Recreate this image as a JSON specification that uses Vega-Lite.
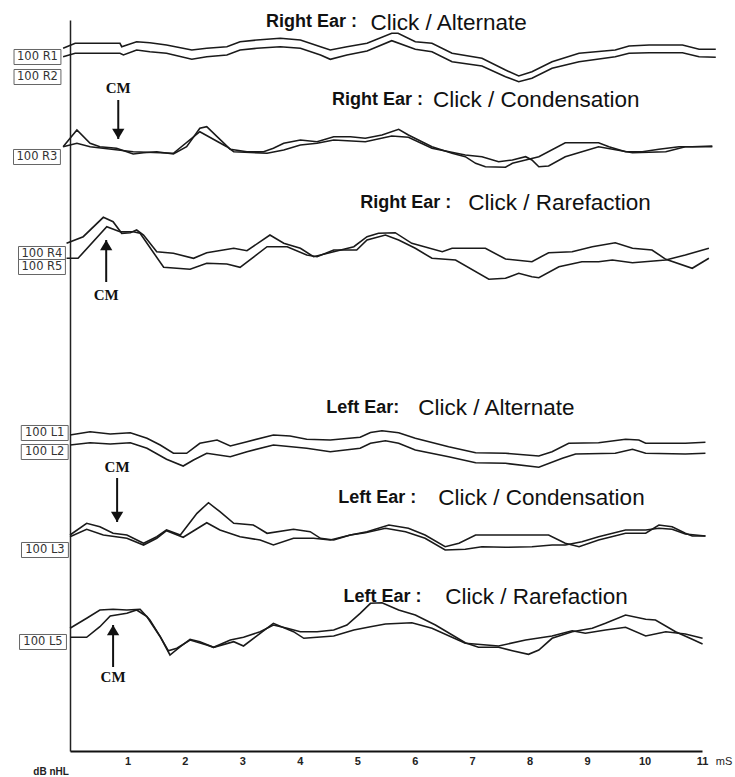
{
  "$schema": "https://vega.github.io/schema/vega-lite/v6.json",
  "width": 632,
  "height": 731,
  "autosize": {"type": "none"},
  "padding": {"left": 70, "top": 20, "right": 33, "bottom": 26},
  "background": "white",
  "config": {"view": {"stroke": null}},
  "datasets": {
    "traces": [
      {"s":"R1","t":-0.12,"v":702.7},{"s":"R1","t":0.09,"v":707.7},{"s":"R1","t":0.87,"v":707.7},{"s":"R1","t":0.90,"v":704.3},{"s":"R1","t":1.16,"v":709.3},{"s":"R1","t":1.39,"v":708.3},{"s":"R1","t":1.68,"v":706},{"s":"R1","t":2.12,"v":701},{"s":"R1","t":2.38,"v":702.7},{"s":"R1","t":2.73,"v":704.3},{"s":"R1","t":2.96,"v":709.3},{"s":"R1","t":3.25,"v":711},{"s":"R1","t":3.66,"v":712.7},{"s":"R1","t":4.01,"v":711},{"s":"R1","t":4.36,"v":704.3},{"s":"R1","t":4.53,"v":701},{"s":"R1","t":4.82,"v":704.3},{"s":"R1","t":5.17,"v":707.7},{"s":"R1","t":5.60,"v":717.7},{"s":"R1","t":5.71,"v":717.7},{"s":"R1","t":6.01,"v":709.3},{"s":"R1","t":6.30,"v":707.7},{"s":"R1","t":6.65,"v":697.7},{"s":"R1","t":7.17,"v":692.7},{"s":"R1","t":7.58,"v":681},{"s":"R1","t":7.81,"v":675},{"s":"R1","t":8.04,"v":679.3},{"s":"R1","t":8.39,"v":689.3},{"s":"R1","t":8.86,"v":697.7},{"s":"R1","t":9.49,"v":701},{"s":"R1","t":9.73,"v":705},{"s":"R1","t":10.08,"v":706},{"s":"R1","t":10.66,"v":706},{"s":"R1","t":10.95,"v":701.7},{"s":"R1","t":11.24,"v":701.7},
      {"s":"R2","t":-0.12,"v":694.3},{"s":"R2","t":0.09,"v":697.7},{"s":"R2","t":0.87,"v":697.7},{"s":"R2","t":0.93,"v":696},{"s":"R2","t":1.16,"v":701},{"s":"R2","t":1.39,"v":699.3},{"s":"R2","t":1.68,"v":697.7},{"s":"R2","t":2.12,"v":691.7},{"s":"R2","t":2.38,"v":694.3},{"s":"R2","t":2.73,"v":696},{"s":"R2","t":2.96,"v":701},{"s":"R2","t":3.25,"v":702.7},{"s":"R2","t":3.66,"v":704.3},{"s":"R2","t":4.01,"v":702.7},{"s":"R2","t":4.36,"v":696},{"s":"R2","t":4.53,"v":691.7},{"s":"R2","t":4.82,"v":696},{"s":"R2","t":5.17,"v":700},{"s":"R2","t":5.60,"v":710.3},{"s":"R2","t":6.01,"v":701.7},{"s":"R2","t":6.30,"v":699.3},{"s":"R2","t":6.65,"v":689.3},{"s":"R2","t":7.17,"v":685},{"s":"R2","t":7.58,"v":674.3},{"s":"R2","t":7.81,"v":669.3},{"s":"R2","t":8.04,"v":672.7},{"s":"R2","t":8.39,"v":682.7},{"s":"R2","t":8.86,"v":689.3},{"s":"R2","t":9.49,"v":694.3},{"s":"R2","t":9.73,"v":697.7},{"s":"R2","t":10.08,"v":698.3},{"s":"R2","t":10.66,"v":698.3},{"s":"R2","t":10.95,"v":694.3},{"s":"R2","t":11.24,"v":693.7},
      {"s":"R3a","t":-0.12,"v":604.3},{"s":"R3a","t":0.12,"v":621},{"s":"R3a","t":0.35,"v":607.7},{"s":"R3a","t":0.52,"v":604.3},{"s":"R3a","t":0.81,"v":602.7},{"s":"R3a","t":1.10,"v":597},{"s":"R3a","t":1.28,"v":598.3},{"s":"R3a","t":1.51,"v":599.3},{"s":"R3a","t":1.80,"v":597},{"s":"R3a","t":2.03,"v":604.3},{"s":"R3a","t":2.26,"v":622.7},{"s":"R3a","t":2.38,"v":624.3},{"s":"R3a","t":2.56,"v":614.3},{"s":"R3a","t":2.79,"v":601.7},{"s":"R3a","t":3.08,"v":599.3},{"s":"R3a","t":3.37,"v":599.3},{"s":"R3a","t":3.54,"v":602.7},{"s":"R3a","t":3.72,"v":607.7},{"s":"R3a","t":4.01,"v":611},{"s":"R3a","t":4.30,"v":609.3},{"s":"R3a","t":4.59,"v":614.3},{"s":"R3a","t":4.88,"v":614.3},{"s":"R3a","t":5.14,"v":612.7},{"s":"R3a","t":5.43,"v":616},{"s":"R3a","t":5.72,"v":621.7},{"s":"R3a","t":5.89,"v":616},{"s":"R3a","t":6.30,"v":604.3},{"s":"R3a","t":6.65,"v":597.7},{"s":"R3a","t":6.88,"v":594.3},{"s":"R3a","t":7.06,"v":587.7},{"s":"R3a","t":7.23,"v":584.3},{"s":"R3a","t":7.58,"v":583.7},{"s":"R3a","t":7.70,"v":587.7},{"s":"R3a","t":7.93,"v":591},{"s":"R3a","t":8.16,"v":594.3},{"s":"R3a","t":8.62,"v":608.3},{"s":"R3a","t":9.20,"v":608.3},{"s":"R3a","t":9.38,"v":604.3},{"s":"R3a","t":9.67,"v":599.3},{"s":"R3a","t":9.96,"v":599.3},{"s":"R3a","t":10.25,"v":601.7},{"s":"R3a","t":10.60,"v":604.3},{"s":"R3a","t":10.83,"v":604.3},{"s":"R3a","t":11.18,"v":605},
      {"s":"R3b","t":-0.12,"v":604.3},{"s":"R3b","t":0.12,"v":607.7},{"s":"R3b","t":0.35,"v":604.3},{"s":"R3b","t":1.10,"v":599.3},{"s":"R3b","t":1.80,"v":597.7},{"s":"R3b","t":2.26,"v":619.3},{"s":"R3b","t":2.73,"v":604.3},{"s":"R3b","t":2.85,"v":599.3},{"s":"R3b","t":3.43,"v":597.7},{"s":"R3b","t":3.72,"v":601},{"s":"R3b","t":4.01,"v":606},{"s":"R3b","t":4.30,"v":607.7},{"s":"R3b","t":4.59,"v":611},{"s":"R3b","t":5.14,"v":609.3},{"s":"R3b","t":5.60,"v":615},{"s":"R3b","t":5.89,"v":613.7},{"s":"R3b","t":6.30,"v":602.7},{"s":"R3b","t":6.88,"v":596},{"s":"R3b","t":7.17,"v":594.3},{"s":"R3b","t":7.46,"v":589.3},{"s":"R3b","t":7.70,"v":591},{"s":"R3b","t":7.93,"v":594.3},{"s":"R3b","t":8.04,"v":591},{"s":"R3b","t":8.16,"v":584.3},{"s":"R3b","t":8.33,"v":585},{"s":"R3b","t":8.62,"v":594.3},{"s":"R3b","t":8.91,"v":599.3},{"s":"R3b","t":9.20,"v":604.3},{"s":"R3b","t":9.79,"v":598.3},{"s":"R3b","t":10.37,"v":599.3},{"s":"R3b","t":10.71,"v":604.3},{"s":"R3b","t":11.18,"v":604.3},
      {"s":"R4","t":-0.06,"v":507.7},{"s":"R4","t":0.23,"v":514.3},{"s":"R4","t":0.58,"v":533.7},{"s":"R4","t":0.75,"v":529.3},{"s":"R4","t":0.90,"v":517.7},{"s":"R4","t":1.05,"v":518.3},{"s":"R4","t":1.16,"v":521},{"s":"R4","t":1.28,"v":516},{"s":"R4","t":1.51,"v":499.3},{"s":"R4","t":1.80,"v":497.7},{"s":"R4","t":2.15,"v":492.7},{"s":"R4","t":2.38,"v":498.3},{"s":"R4","t":2.85,"v":502.7},{"s":"R4","t":3.08,"v":500.3},{"s":"R4","t":3.48,"v":516},{"s":"R4","t":3.72,"v":507.7},{"s":"R4","t":4.01,"v":502.7},{"s":"R4","t":4.24,"v":494.3},{"s":"R4","t":4.59,"v":499.3},{"s":"R4","t":4.94,"v":504.3},{"s":"R4","t":5.17,"v":514.3},{"s":"R4","t":5.37,"v":517.7},{"s":"R4","t":5.66,"v":518.3},{"s":"R4","t":5.95,"v":507.7},{"s":"R4","t":6.48,"v":499.3},{"s":"R4","t":6.65,"v":502.7},{"s":"R4","t":7.23,"v":502.7},{"s":"R4","t":7.58,"v":492},{"s":"R4","t":8.04,"v":489.3},{"s":"R4","t":8.33,"v":498.3},{"s":"R4","t":8.74,"v":499.3},{"s":"R4","t":9.09,"v":504.3},{"s":"R4","t":9.49,"v":508.3},{"s":"R4","t":9.79,"v":502.7},{"s":"R4","t":10.13,"v":501},{"s":"R4","t":10.37,"v":491.7},{"s":"R4","t":10.83,"v":482.7},{"s":"R4","t":11.12,"v":492.7},
      {"s":"R5","t":-0.06,"v":492.7},{"s":"R5","t":0.14,"v":492.7},{"s":"R5","t":0.64,"v":524.3},{"s":"R5","t":0.87,"v":519.3},{"s":"R5","t":1.10,"v":519.3},{"s":"R5","t":1.22,"v":517.7},{"s":"R5","t":1.63,"v":483.7},{"s":"R5","t":2.09,"v":481.7},{"s":"R5","t":2.38,"v":487.7},{"s":"R5","t":2.73,"v":487},{"s":"R5","t":2.96,"v":483.7},{"s":"R5","t":3.43,"v":504.3},{"s":"R5","t":3.78,"v":504.3},{"s":"R5","t":4.12,"v":496},{"s":"R5","t":4.30,"v":494.3},{"s":"R5","t":4.59,"v":501},{"s":"R5","t":4.99,"v":501},{"s":"R5","t":5.17,"v":511},{"s":"R5","t":5.49,"v":516},{"s":"R5","t":5.72,"v":511},{"s":"R5","t":6.01,"v":502.7},{"s":"R5","t":6.30,"v":492.7},{"s":"R5","t":6.71,"v":491},{"s":"R5","t":7.29,"v":471.7},{"s":"R5","t":7.58,"v":472.7},{"s":"R5","t":7.81,"v":477.7},{"s":"R5","t":8.04,"v":474.3},{"s":"R5","t":8.16,"v":473.3},{"s":"R5","t":8.51,"v":484.3},{"s":"R5","t":8.91,"v":489.3},{"s":"R5","t":9.20,"v":489.3},{"s":"R5","t":9.44,"v":491},{"s":"R5","t":9.79,"v":488.3},{"s":"R5","t":10.37,"v":491},{"s":"R5","t":10.71,"v":496},{"s":"R5","t":11.12,"v":502.7},
      {"s":"L1","t":0,"v":316},{"s":"L1","t":0.35,"v":319.3},{"s":"L1","t":0.70,"v":317},{"s":"L1","t":1.05,"v":318.3},{"s":"L1","t":1.34,"v":312.7},{"s":"L1","t":1.57,"v":306},{"s":"L1","t":1.80,"v":297.7},{"s":"L1","t":2.03,"v":297.7},{"s":"L1","t":2.26,"v":307.7},{"s":"L1","t":2.56,"v":311},{"s":"L1","t":2.79,"v":305},{"s":"L1","t":3.08,"v":309.3},{"s":"L1","t":3.54,"v":316},{"s":"L1","t":3.83,"v":315},{"s":"L1","t":4.12,"v":311.7},{"s":"L1","t":4.53,"v":311},{"s":"L1","t":5.05,"v":313.7},{"s":"L1","t":5.23,"v":318.5},{"s":"L1","t":5.43,"v":320.3},{"s":"L1","t":5.72,"v":318.3},{"s":"L1","t":6.01,"v":312.7},{"s":"L1","t":6.59,"v":304.3},{"s":"L1","t":7.06,"v":298.3},{"s":"L1","t":7.58,"v":297.7},{"s":"L1","t":8.16,"v":295},{"s":"L1","t":8.39,"v":299.3},{"s":"L1","t":8.68,"v":307.7},{"s":"L1","t":9.20,"v":308.3},{"s":"L1","t":9.67,"v":311.7},{"s":"L1","t":9.90,"v":311},{"s":"L1","t":10.02,"v":307.7},{"s":"L1","t":10.71,"v":307.7},{"s":"L1","t":11.06,"v":308.7},
      {"s":"L2","t":0,"v":306},{"s":"L2","t":0.35,"v":308.3},{"s":"L2","t":0.70,"v":307},{"s":"L2","t":1.05,"v":308.3},{"s":"L2","t":1.34,"v":302.7},{"s":"L2","t":1.68,"v":291.7},{"s":"L2","t":1.97,"v":285},{"s":"L2","t":2.15,"v":291},{"s":"L2","t":2.38,"v":297.7},{"s":"L2","t":2.79,"v":294.3},{"s":"L2","t":3.08,"v":299.3},{"s":"L2","t":3.54,"v":306},{"s":"L2","t":4.12,"v":302.7},{"s":"L2","t":4.53,"v":299.3},{"s":"L2","t":5.05,"v":302.7},{"s":"L2","t":5.23,"v":307.7},{"s":"L2","t":5.49,"v":310.3},{"s":"L2","t":5.72,"v":307.7},{"s":"L2","t":6.01,"v":301},{"s":"L2","t":6.59,"v":294.3},{"s":"L2","t":7.06,"v":288.3},{"s":"L2","t":7.58,"v":287.7},{"s":"L2","t":8.16,"v":283.7},{"s":"L2","t":8.57,"v":292.7},{"s":"L2","t":8.80,"v":297},{"s":"L2","t":9.49,"v":297.7},{"s":"L2","t":9.79,"v":301.7},{"s":"L2","t":10.02,"v":297.7},{"s":"L2","t":10.71,"v":297},{"s":"L2","t":11.06,"v":297.7},
      {"s":"L3a","t":0,"v":216},{"s":"L3a","t":0.29,"v":227.7},{"s":"L3a","t":0.52,"v":224.3},{"s":"L3a","t":0.75,"v":217.7},{"s":"L3a","t":0.99,"v":216},{"s":"L3a","t":1.28,"v":207.7},{"s":"L3a","t":1.51,"v":214.3},{"s":"L3a","t":1.68,"v":221},{"s":"L3a","t":1.92,"v":216},{"s":"L3a","t":2.21,"v":237.7},{"s":"L3a","t":2.41,"v":248.3},{"s":"L3a","t":2.61,"v":239.3},{"s":"L3a","t":2.85,"v":227.7},{"s":"L3a","t":3.19,"v":226},{"s":"L3a","t":3.43,"v":217.7},{"s":"L3a","t":3.89,"v":221.7},{"s":"L3a","t":4.18,"v":219.3},{"s":"L3a","t":4.36,"v":212.7},{"s":"L3a","t":4.59,"v":211},{"s":"L3a","t":4.88,"v":216},{"s":"L3a","t":5.17,"v":219.3},{"s":"L3a","t":5.55,"v":226},{"s":"L3a","t":5.89,"v":222.7},{"s":"L3a","t":6.18,"v":216},{"s":"L3a","t":6.53,"v":204.3},{"s":"L3a","t":6.77,"v":207.7},{"s":"L3a","t":7.06,"v":216},{"s":"L3a","t":8.33,"v":216},{"s":"L3a","t":8.62,"v":207.7},{"s":"L3a","t":8.86,"v":204.3},{"s":"L3a","t":9.20,"v":211},{"s":"L3a","t":9.67,"v":217.7},{"s":"L3a","t":10.02,"v":217.7},{"s":"L3a","t":10.25,"v":226},{"s":"L3a","t":10.48,"v":224.3},{"s":"L3a","t":10.71,"v":217.7},{"s":"L3a","t":10.83,"v":215},{"s":"L3a","t":11.06,"v":215},
      {"s":"L3b","t":0,"v":214.3},{"s":"L3b","t":0.29,"v":221.7},{"s":"L3b","t":0.58,"v":216},{"s":"L3b","t":0.99,"v":212.7},{"s":"L3b","t":1.28,"v":206},{"s":"L3b","t":1.51,"v":212.7},{"s":"L3b","t":1.68,"v":220.3},{"s":"L3b","t":1.97,"v":213.7},{"s":"L3b","t":2.38,"v":228.3},{"s":"L3b","t":2.61,"v":221},{"s":"L3b","t":2.96,"v":214.3},{"s":"L3b","t":3.31,"v":211},{"s":"L3b","t":3.54,"v":206},{"s":"L3b","t":3.89,"v":212.7},{"s":"L3b","t":4.24,"v":212.7},{"s":"L3b","t":4.53,"v":211},{"s":"L3b","t":4.88,"v":216},{"s":"L3b","t":5.14,"v":218.3},{"s":"L3b","t":5.49,"v":222.7},{"s":"L3b","t":5.84,"v":219.3},{"s":"L3b","t":6.18,"v":212.7},{"s":"L3b","t":6.53,"v":201},{"s":"L3b","t":6.88,"v":201.7},{"s":"L3b","t":7.17,"v":204.3},{"s":"L3b","t":7.58,"v":203.7},{"s":"L3b","t":8.04,"v":204.3},{"s":"L3b","t":8.39,"v":206},{"s":"L3b","t":8.62,"v":206},{"s":"L3b","t":8.91,"v":209.3},{"s":"L3b","t":9.20,"v":214.3},{"s":"L3b","t":9.67,"v":221},{"s":"L3b","t":10.02,"v":221},{"s":"L3b","t":10.25,"v":222.7},{"s":"L3b","t":10.48,"v":221.7},{"s":"L3b","t":10.71,"v":217},{"s":"L3b","t":11.06,"v":215},
      {"s":"L5a","t":0,"v":122.7},{"s":"L5a","t":0.29,"v":132.7},{"s":"L5a","t":0.52,"v":141},{"s":"L5a","t":0.75,"v":141.7},{"s":"L5a","t":0.99,"v":141},{"s":"L5a","t":1.22,"v":141.7},{"s":"L5a","t":1.39,"v":131},{"s":"L5a","t":1.57,"v":114.3},{"s":"L5a","t":1.74,"v":96},{"s":"L5a","t":1.92,"v":104.3},{"s":"L5a","t":2.09,"v":111.7},{"s":"L5a","t":2.26,"v":109.3},{"s":"L5a","t":2.50,"v":103.7},{"s":"L5a","t":2.79,"v":111},{"s":"L5a","t":3.02,"v":113.7},{"s":"L5a","t":3.31,"v":119.3},{"s":"L5a","t":3.54,"v":126},{"s":"L5a","t":3.78,"v":122.7},{"s":"L5a","t":4.01,"v":119.3},{"s":"L5a","t":4.30,"v":119.3},{"s":"L5a","t":4.59,"v":121},{"s":"L5a","t":4.82,"v":126},{"s":"L5a","t":5.05,"v":137.7},{"s":"L5a","t":5.23,"v":147.7},{"s":"L5a","t":5.43,"v":148.3},{"s":"L5a","t":5.72,"v":141},{"s":"L5a","t":6.01,"v":136},{"s":"L5a","t":6.36,"v":126},{"s":"L5a","t":6.88,"v":108.3},{"s":"L5a","t":7.11,"v":103.7},{"s":"L5a","t":7.46,"v":103.7},{"s":"L5a","t":7.70,"v":100.3},{"s":"L5a","t":7.98,"v":96.7},{"s":"L5a","t":8.16,"v":101},{"s":"L5a","t":8.39,"v":112.7},{"s":"L5a","t":8.74,"v":119.3},{"s":"L5a","t":9.09,"v":122.7},{"s":"L5a","t":9.32,"v":127.7},{"s":"L5a","t":9.67,"v":136},{"s":"L5a","t":10.02,"v":131.7},{"s":"L5a","t":10.19,"v":131},{"s":"L5a","t":10.54,"v":119.3},{"s":"L5a","t":10.83,"v":111.7},{"s":"L5a","t":11.01,"v":107},
      {"s":"L5b","t":0,"v":113.7},{"s":"L5b","t":0.29,"v":113.7},{"s":"L5b","t":0.52,"v":124.3},{"s":"L5b","t":0.70,"v":135},{"s":"L5b","t":0.99,"v":137.7},{"s":"L5b","t":1.16,"v":141},{"s":"L5b","t":1.34,"v":134.3},{"s":"L5b","t":1.57,"v":114.3},{"s":"L5b","t":1.71,"v":100.3},{"s":"L5b","t":1.86,"v":102.7},{"s":"L5b","t":2.09,"v":111},{"s":"L5b","t":2.38,"v":106},{"s":"L5b","t":2.50,"v":103.7},{"s":"L5b","t":2.85,"v":109.3},{"s":"L5b","t":3.02,"v":105},{"s":"L5b","t":3.31,"v":117.7},{"s":"L5b","t":3.54,"v":127.7},{"s":"L5b","t":3.89,"v":119.3},{"s":"L5b","t":4.07,"v":112.7},{"s":"L5b","t":4.30,"v":113.7},{"s":"L5b","t":4.59,"v":115},{"s":"L5b","t":4.94,"v":121},{"s":"L5b","t":5.23,"v":124.3},{"s":"L5b","t":5.49,"v":127},{"s":"L5b","t":5.95,"v":128.3},{"s":"L5b","t":6.30,"v":122.7},{"s":"L5b","t":6.88,"v":107.7},{"s":"L5b","t":7.46,"v":105},{"s":"L5b","t":7.93,"v":111},{"s":"L5b","t":8.39,"v":115},{"s":"L5b","t":8.74,"v":120.3},{"s":"L5b","t":8.97,"v":117.7},{"s":"L5b","t":9.32,"v":121},{"s":"L5b","t":9.67,"v":123.7},{"s":"L5b","t":10.02,"v":115},{"s":"L5b","t":10.37,"v":119.3},{"s":"L5b","t":10.71,"v":117},{"s":"L5b","t":11.01,"v":112.7}
    ],
    "titles": [
      {"part":"ear","t":3.41,"v":729,"text":"Right Ear :"},{"part":"stim","t":5.23,"v":728,"text":"Click / Alternate"},
      {"part":"ear","t":4.56,"v":651,"text":"Right Ear :"},{"part":"stim","t":6.32,"v":651,"text":"Click / Condensation"},
      {"part":"ear","t":5.05,"v":548,"text":"Right Ear :"},{"part":"stim","t":6.93,"v":548,"text":"Click / Rarefaction"},
      {"part":"ear","t":4.46,"v":343,"text":"Left Ear:"},{"part":"stim","t":6.06,"v":343,"text":"Click / Alternate"},
      {"part":"ear","t":4.67,"v":253,"text":"Left Ear :"},{"part":"stim","t":6.41,"v":253,"text":"Click / Condensation"},
      {"part":"ear","t":4.76,"v":154,"text":"Left Ear :"},{"part":"stim","t":6.53,"v":154,"text":"Click / Rarefaction"}
    ],
    "boxes": [
      {"t":-0.566,"v":694,"text":"100 R1"},{"t":-0.566,"v":674,"text":"100 R2"},
      {"t":-0.575,"v":594,"text":"100 R3"},
      {"t":-0.488,"v":497,"text":"100 R4"},{"t":-0.488,"v":484,"text":"100 R5"},
      {"t":-0.44,"v":318,"text":"100 L1"},{"t":-0.44,"v":299,"text":"100 L2"},
      {"t":-0.436,"v":201,"text":"100 L3"},
      {"t":-0.47,"v":109,"text":"100 L5"}
    ],
    "cm": [
      {"t":0.84,"label":663,"v":651,"v2":612,"dir":"down"},
      {"t":0.63,"label":456,"v":469,"v2":511,"dir":"up"},
      {"t":0.82,"label":284,"v":273,"v2":229,"dir":"down"},
      {"t":0.75,"label":74,"v":84,"v2":126,"dir":"up"}
    ],
    "misc": [
      {"t":-0.33,"v":-21,"text":"dB nHL","size":"small"},
      {"t":11.24,"v":-11,"text":"mS","size":"unit"}
    ]
  },
  "layer": [
    {
      "data": {"name": "traces"},
      "mark": {"type": "line", "color": "#1a1a1a", "strokeWidth": 1.6, "clip": false},
      "encoding": {
        "x": {"field": "t", "type": "quantitative", "scale": {"domain": [0, 11], "nice": false, "zero": false},
          "axis": {"values": [1,2,3,4,5,6,7,8,9,10,11], "format": "d", "title": null, "ticks": false, "grid": false, "domainColor": "#111", "domainWidth": 2, "labelFontSize": 11, "labelFontWeight": "bold", "labelFont": "Liberation Sans", "labelPadding": 4, "labelColor": "#222", "labelFlush": false}},
        "y": {"field": "v", "type": "quantitative", "scale": {"domain": [0, 731], "nice": false, "zero": false},
          "axis": {"title": null, "labels": false, "ticks": false, "grid": false, "domainColor": "#222", "domainWidth": 1.5}},
        "detail": {"field": "s"}
      }
    },
    {
      "data": {"name": "boxes"},
      "mark": {"type": "point", "shape": "M-1,-0.32L1,-0.32L1,0.32L-1,0.32Z", "size": 2200, "filled": true, "fill": "white", "stroke": "#666", "strokeWidth": 1, "opacity": 1, "clip": false},
      "encoding": {"x": {"field": "t", "type": "quantitative"}, "y": {"field": "v", "type": "quantitative"}}
    },
    {
      "data": {"name": "boxes"},
      "mark": {"type": "text", "font": "DejaVu Sans", "fontSize": 11.5, "color": "#333", "align": "center", "baseline": "middle", "clip": false},
      "encoding": {"x": {"field": "t", "type": "quantitative"}, "y": {"field": "v", "type": "quantitative"}, "text": {"field": "text"}}
    },
    {
      "data": {"name": "titles"},
      "transform": [{"filter": "datum.part === 'ear'"}],
      "mark": {"type": "text", "font": "Liberation Sans", "fontWeight": "bold", "fontSize": 18, "color": "#111", "align": "left", "baseline": "middle"},
      "encoding": {"x": {"field": "t", "type": "quantitative"}, "y": {"field": "v", "type": "quantitative"}, "text": {"field": "text"}}
    },
    {
      "data": {"name": "titles"},
      "transform": [{"filter": "datum.part === 'stim'"}],
      "mark": {"type": "text", "font": "Liberation Sans", "fontSize": 22.5, "color": "#111", "align": "left", "baseline": "middle"},
      "encoding": {"x": {"field": "t", "type": "quantitative"}, "y": {"field": "v", "type": "quantitative"}, "text": {"field": "text"}}
    },
    {
      "data": {"name": "cm"},
      "mark": {"type": "rule", "color": "#111", "strokeWidth": 2},
      "encoding": {"x": {"field": "t", "type": "quantitative"}, "y": {"field": "v", "type": "quantitative"}, "y2": {"field": "v2"}}
    },
    {
      "data": {"name": "cm"},
      "mark": {"type": "point", "filled": true, "color": "#111", "opacity": 1, "size": 420},
      "encoding": {
        "x": {"field": "t", "type": "quantitative"},
        "y": {"field": "v2", "type": "quantitative"},
        "shape": {"field": "dir", "type": "nominal", "scale": {"domain": ["down", "up"], "range": ["M0,0L-0.6,-1L0.6,-1Z", "M0,0L-0.6,1L0.6,1Z"]}, "legend": null}
      }
    },
    {
      "data": {"name": "cm"},
      "mark": {"type": "text", "text": "CM", "font": "Liberation Serif", "fontWeight": "bold", "fontSize": 15, "color": "#111", "align": "center", "baseline": "middle"},
      "encoding": {"x": {"field": "t", "type": "quantitative"}, "y": {"field": "label", "type": "quantitative"}}
    },
    {
      "data": {"name": "misc"},
      "transform": [{"filter": "datum.size === 'small'"}],
      "mark": {"type": "text", "font": "Liberation Sans", "fontWeight": "bold", "fontSize": 10, "color": "#222", "align": "center", "baseline": "middle", "clip": false},
      "encoding": {"x": {"field": "t", "type": "quantitative"}, "y": {"field": "v", "type": "quantitative"}, "text": {"field": "text"}}
    },
    {
      "data": {"name": "misc"},
      "transform": [{"filter": "datum.size === 'unit'"}],
      "mark": {"type": "text", "font": "Liberation Sans", "fontSize": 11, "color": "#222", "align": "left", "baseline": "middle", "clip": false},
      "encoding": {"x": {"field": "t", "type": "quantitative"}, "y": {"field": "v", "type": "quantitative"}, "text": {"field": "text"}}
    }
  ]
}
